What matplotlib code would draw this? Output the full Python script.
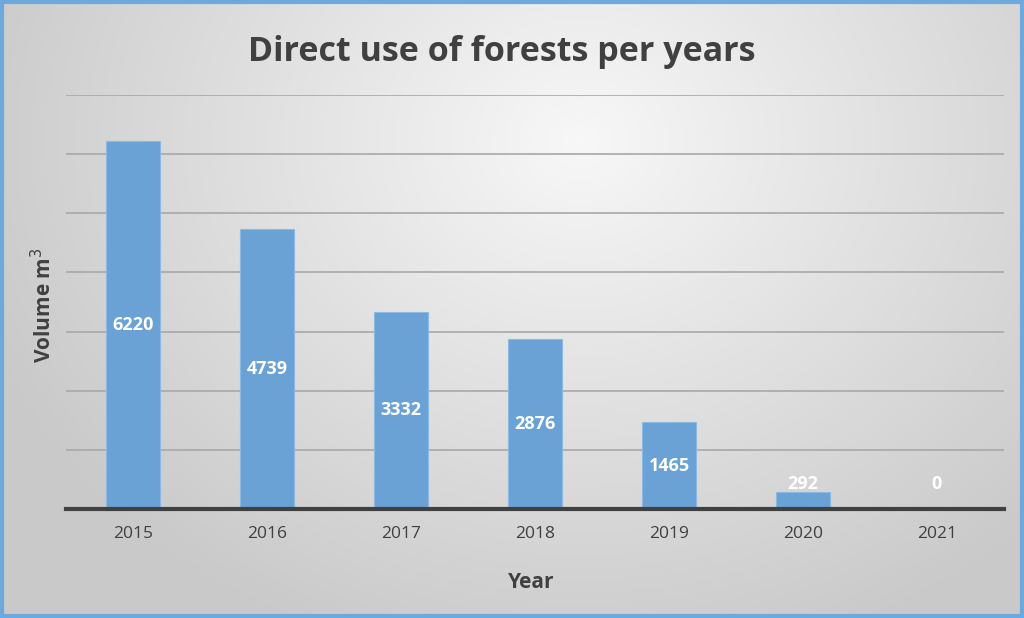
import numpy as np
import matplotlib
matplotlib.use("Agg")
import matplotlib.pyplot as plt
from matplotlib.patches import Rectangle

years = ["2015", "2016", "2017", "2018", "2019", "2020", "2021"]
volumes = [6220, 4739, 3332, 2876, 1465, 292, 0]

title = "Direct use of forests per years"
xlabel = "Year"
ylabel = "Volume m$^{3}$"

plt.rcParams['font.family'] = ['Open Sans', 'DejaVu Sans']

fig = plt.figure(figsize=(10.24, 6.18), dpi=100)

# radial gradient background
bg = fig.add_axes([0, 0, 1, 1], zorder=-10)
h, w = 618, 1024
yy, xx = np.mgrid[0:h, 0:w]
cx, cy = 580, 140
r = np.sqrt(((xx - cx) / 640.0) ** 2 + ((yy - cy) / 540.0) ** 2)
r = np.clip(r, 0, 1)
lo, hi = 0.79, 0.97
val = hi - (hi - lo) * r
img = np.dstack([val, val, val])
bg.imshow(img, aspect='auto', extent=[0, 1, 0, 1], origin='upper')
bg.set_xlim(0, 1); bg.set_ylim(0, 1)
bg.axis('off')
bg.add_patch(Rectangle((0.002, 0.003), 0.996, 0.994, transform=bg.transAxes,
                       fill=False, edgecolor='#6fa8dc', linewidth=3))

ax = fig.add_axes([66 / 1024, (618 - 509) / 618, (1004 - 66) / 1024, (509 - 95) / 618])
ax.patch.set_alpha(0)
x = np.arange(len(years))
ax.bar(x, volumes, width=0.4, color='#6aa2d6', edgecolor='#8ab9e4', linewidth=0.8, zorder=3)
ax.set_xlim(-0.5, len(years) - 0.5)
ax.set_ylim(0, 7000)
ax.set_yticks(np.arange(1000, 7001, 1000))
ax.yaxis.grid(True, color='#a8a8a8', linewidth=1.2, zorder=0)
ax.tick_params(axis='y', left=False, labelleft=False)
ax.tick_params(axis='x', bottom=False, labelsize=12.5, labelcolor='#404040', pad=9)
ax.set_xticks(x)
ax.set_xticklabels(years)
for s in ['top', 'right', 'left']:
    ax.spines[s].set_visible(False)
ax.spines['bottom'].set_color('#404040')
ax.spines['bottom'].set_linewidth(3)
ax.spines['bottom'].set_zorder(4)

for xi, v in zip(x, volumes):
    ax.text(xi, max(v / 2, 420), str(v), ha='center', va='center', color='white',
            fontsize=13, fontweight='bold', zorder=5)

fig.text(502 / 1024, 1 - 52 / 618, title, ha='center', va='center', fontsize=24.5,
         fontweight='bold', color='#404040')
fig.text(531 / 1024, 1 - 582 / 618, xlabel, ha='center', va='center', fontsize=15,
         fontweight='bold', color='#404040')
fig.text(44 / 1024, 1 - 305 / 618, ylabel, ha='center', va='center', fontsize=15,
         fontweight='bold', color='#404040', rotation=90)

fig.savefig('out.png', dpi=100)
